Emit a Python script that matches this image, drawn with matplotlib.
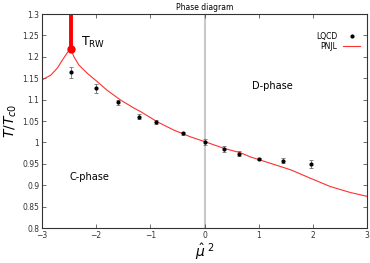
import numpy as np
import matplotlib
matplotlib.use("Agg")
import matplotlib.pyplot as plt

# lattice QCD points
lqcd_x = [-2.47, -2.0, -1.59, -1.21, -0.89, -0.40, 0.0, 0.36, 0.64, 1.0, 1.44, 1.96]
lqcd_y = [1.164, 1.126, 1.094, 1.060, 1.047, 1.021, 1.000, 0.985, 0.974, 0.961, 0.957, 0.950]
lqcd_err = [0.013, 0.011, 0.006, 0.006, 0.005, 0.003, 0.007, 0.007, 0.005, 0.003, 0.006, 0.009]

# PNJL curve
pnjl_x = [-3.0, -2.84, -2.72, -2.63, -2.53, -2.47, -2.41, -2.32, -2.16, -1.98, -1.80,
          -1.55, -1.30, -1.18, -0.87, -0.57, -0.26, 0.0, 0.36, 0.66, 0.85, 1.22,
          1.59, 1.96, 2.32, 2.69, 3.0]
pnjl_y = [1.146, 1.157, 1.173, 1.191, 1.210, 1.219, 1.200, 1.181, 1.161, 1.142, 1.122,
          1.099, 1.080, 1.072, 1.048, 1.029, 1.013, 1.002, 0.986, 0.976, 0.966, 0.951,
          0.936, 0.916, 0.897, 0.883, 0.874]

trw_x = -2.47
trw_y = 1.219

plt.rcParams['font.family'] = ['DejaVu Sans']
fig = plt.figure(figsize=(3.7, 2.63), dpi=100)
ax = fig.add_axes([42/370, 1 - 228/263, (367-42)/370, (228-14)/263])

ax.axvline(0, color='#c8c8c8', lw=1.5, zorder=0)
pnjl_line, = ax.plot(pnjl_x, pnjl_y, color='#ff3030', lw=0.8)
ax.plot([trw_x, trw_x], [trw_y, 1.3], color='red', lw=2.8, solid_capstyle='butt')
ax.plot(trw_x, trw_y, 'o', color='red', ms=5)
lqcd = ax.errorbar(lqcd_x, lqcd_y, yerr=lqcd_err, fmt='o', color='black', ms=2,
                   ecolor='#707070', elinewidth=0.6, capsize=1.5, capthick=0.6)

ax.set_xlim(-3, 3)
ax.set_ylim(0.8, 1.3)
ax.set_xticks(np.arange(-3, 4, 1))
ax.set_yticks(np.arange(0.8, 1.31, 0.05))
ax.set_yticklabels(['0.8', '0.85', '0.9', '0.95', '1', '1.05', '1.1', '1.15', '1.2', '1.25', '1.3'])
ax.tick_params(direction='in', top=True, right=True, length=3, width=0.5,
               labelsize=5.5, pad=2, colors='#333333')
for s in ax.spines.values():
    s.set_linewidth(0.8)
    s.set_color('#333333')

ax.text(-2.28, 1.226, r'T$_{\rm RW}$', fontsize=9)
ax.text(0.88, 1.125, 'D-phase', fontsize=7)
ax.text(-2.5, 0.913, 'C-phase', fontsize=7)
ax.set_title('Phase diagram', fontsize=5.5, pad=3)
ax.set_ylabel(r'$T/T_{c0}$', fontsize=10, labelpad=2)
ax.set_xlabel(r'$\hat{\mu}^{\ 2}$', fontsize=10, labelpad=1)

leg = ax.legend(handles=[lqcd[0], pnjl_line], labels=['LQCD', 'PNJL'],
                loc='upper right', frameon=False, fontsize=5.5, markerfirst=False,
                handlelength=2.2, labelspacing=0.2, bbox_to_anchor=(1.0, 0.95))

fig.savefig('out.png', dpi=100)
